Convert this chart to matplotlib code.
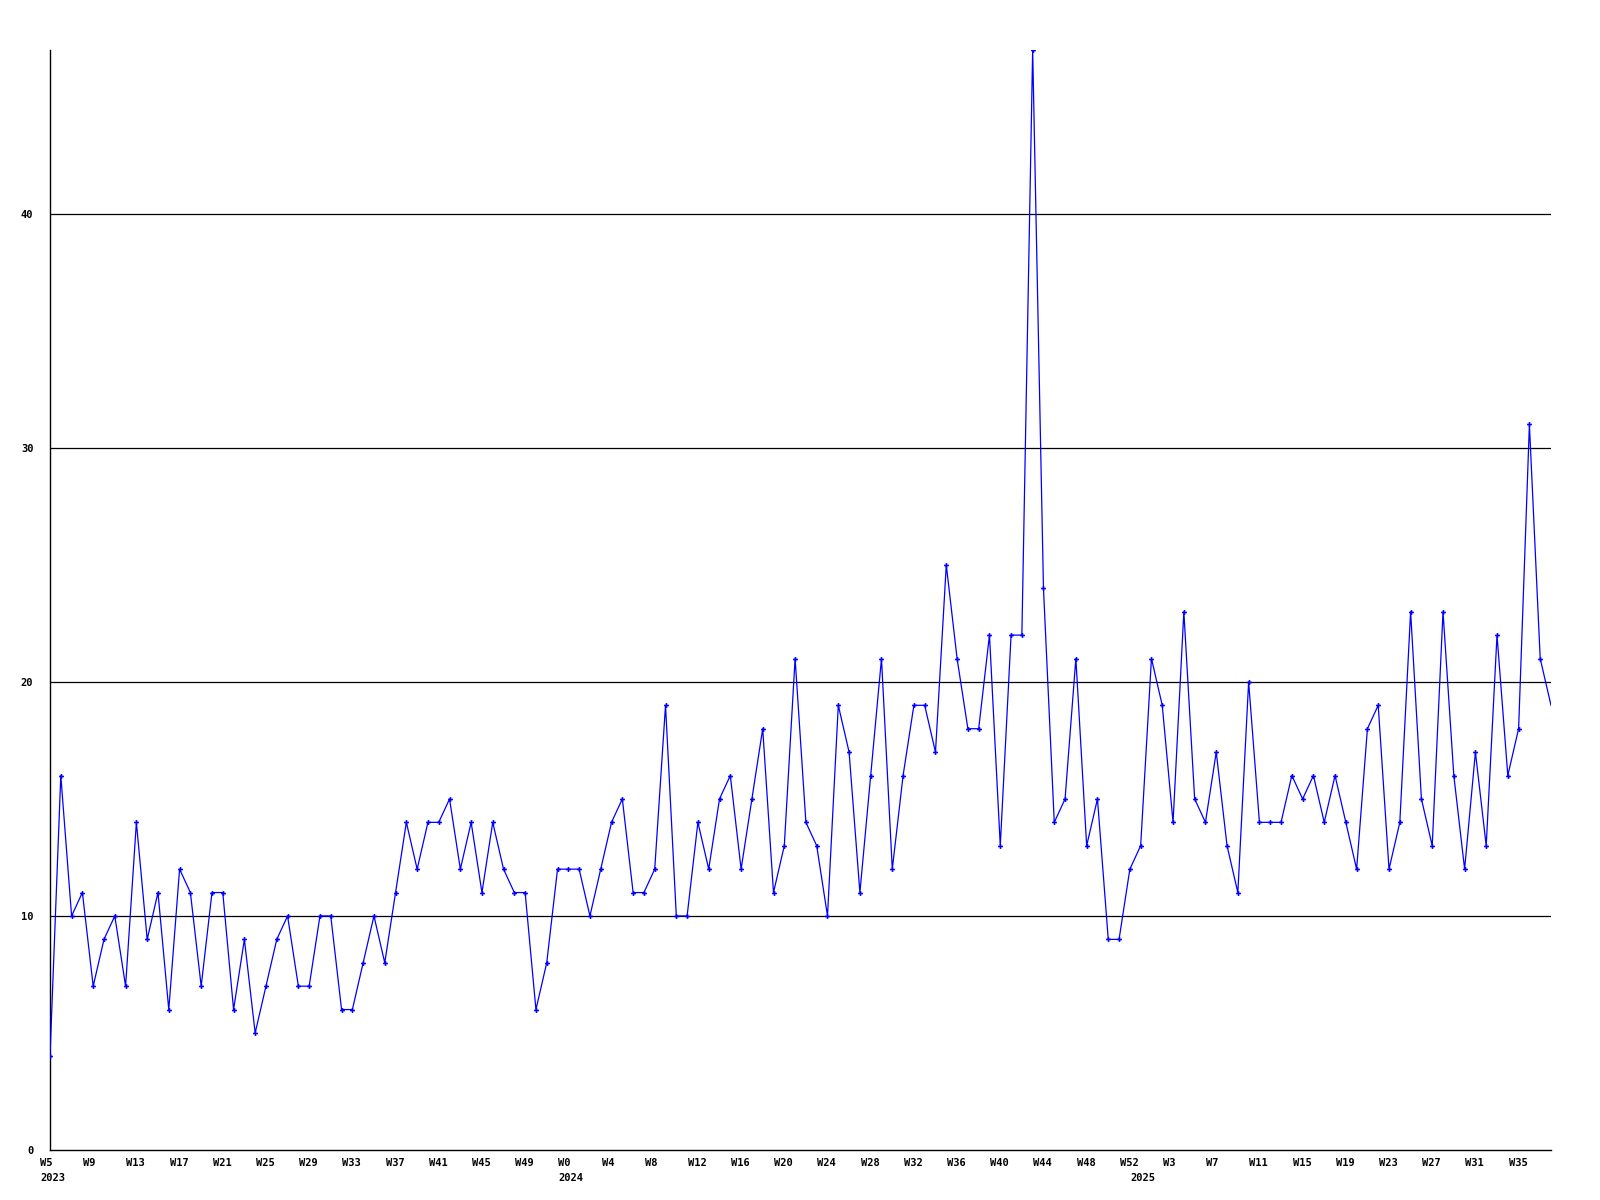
import numpy as np
import matplotlib.pyplot as plt
from matplotlib.transforms import offset_copy

# weekly counts, W5 2023 .. W38 2025
values = [4, 16, 10, 11, 7, 9, 10, 7, 14, 9,
          11, 6, 12, 11, 7, 11, 11, 6, 9, 5,
          7, 9, 10, 7, 7, 10, 10, 6, 6, 8,
          10, 8, 11, 14, 12, 14, 14, 15, 12, 14,
          11, 14, 12, 11, 11, 6, 8, 12, 12, 12,
          10, 12, 14, 15, 11, 11, 12, 19, 10, 10,
          14, 12, 15, 16, 12, 15, 18, 11, 13, 21,
          14, 13, 10, 19, 17, 11, 16, 21, 12, 16,
          19, 19, 17, 25, 21, 18, 18, 22, 13, 22,
          22, 47, 24, 14, 15, 21, 13, 15, 9, 9,
          12, 13, 21, 19, 14, 23, 15, 14, 17, 13,
          11, 20, 14, 14, 14, 16, 15, 16, 14, 16,
          14, 12, 18, 19, 12, 14, 23, 15, 13, 23,
          16, 12, 17, 13, 22, 16, 18, 31, 21, 19]

week_labels = ["W5", "W9", "W13", "W17", "W21", "W25", "W29", "W33", "W37",
               "W41", "W45", "W49", "W0", "W4", "W8", "W12", "W16", "W20",
               "W24", "W28", "W32", "W36", "W40", "W44", "W48", "W52", "W3",
               "W7", "W11", "W15", "W19", "W23", "W27", "W31", "W35"]
week_pos = list(range(0, 140, 4))
years = ["2023", "2024", "2025"]
year_pos = [0, 48, 101]
y_ticks = [0, 10, 20, 30, 40]

fnt = dict(family="DejaVu Sans Mono", weight="bold", size=7.5)

fig = plt.figure(figsize=(16, 12), dpi=100)
ax = fig.add_axes([50/1600, 50/1200, 1501/1600, 1100/1200])

x = np.arange(len(values))
for g in y_ticks[1:]:
    ax.axhline(g, color="black", lw=0.9, zorder=1)
ax.plot(x, values, color="#0000ff", lw=0.9, zorder=3)
# last point sits on the plot edge, its marker is not drawn
ax.plot(x[:-1], values[:-1], ls="none", color="#0000ff", marker="P",
        markersize=3.5, markeredgewidth=0, zorder=4)

ax.set_xlim(0, len(values) - 1)
ax.set_ylim(0, max(values))
for s in ["top", "right"]:
    ax.spines[s].set_visible(False)
for s in ["left", "bottom"]:
    ax.spines[s].set_color("black")
    ax.spines[s].set_linewidth(1.0)

ax.set_yticks(y_ticks)
ax.set_yticklabels([str(v) for v in y_ticks], **fnt)
ax.tick_params(axis="y", length=0, pad=12)
ax.set_xticks([])

trans = ax.get_xaxis_transform()
t1 = offset_copy(trans, fig=fig, x=-10, y=-18, units="dots")
t2 = offset_copy(trans, fig=fig, x=-10, y=-33, units="dots")
for p, lab in zip(week_pos, week_labels):
    ax.text(p, 0, lab, transform=t1, ha="left", va="bottom", **fnt)
for p, lab in zip(year_pos, years):
    ax.text(p, 0, lab, transform=t2, ha="left", va="bottom", **fnt)

plt.savefig("out.png", dpi=100)
